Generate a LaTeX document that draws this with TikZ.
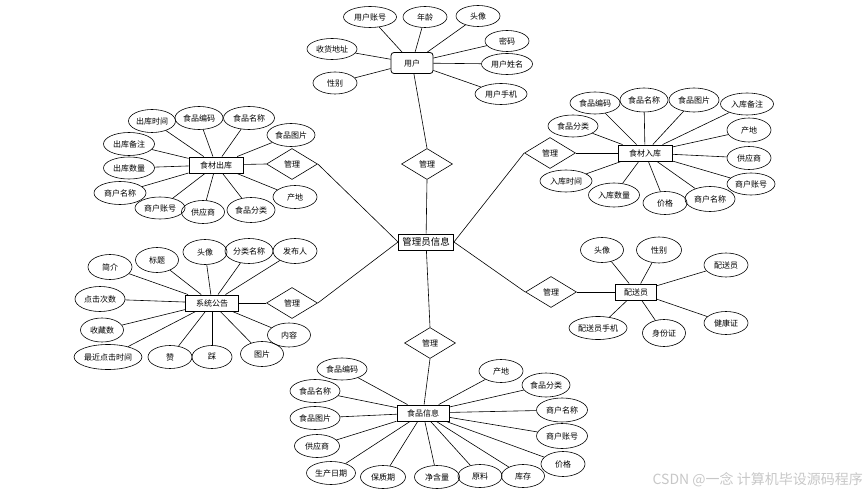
\documentclass[tikz,border=0pt]{standalone}
\usepackage{fontspec}
\setmainfont{Noto Sans CJK SC}
\usetikzlibrary{shapes.geometric}
\tikzset{
  attr/.style={ellipse, draw, line width=0.6pt, minimum width=48pt, minimum height=22pt, inner sep=0pt, font=\fontsize{8}{9}\selectfont},
  ent/.style={rectangle, draw, line width=0.9pt, minimum width=54pt, minimum height=16pt, inner sep=0pt, fill=white, font=\fontsize{8}{9}\selectfont},
  rel/.style={diamond, draw, line width=0.6pt, minimum width=51pt, minimum height=31pt, inner sep=0pt, fill=white, font=\fontsize{8}{9}\selectfont},
  conn/.style={line width=0.6pt}
}
\begin{document}
\begin{tikzpicture}[x=1pt,y=-1pt]
\useasboundingbox (0,0) rectangle (867,497);
% central
\node[ent, line width=0.9pt, minimum width=55pt, font=\fontsize{9.5}{10}\selectfont] (admin) at (426,242) {管理员信息};
\node[rel] (r0) at (427,164) {管理};
\node[rel] (r1) at (292,164) {管理};
\node[rel] (r2) at (550,153) {管理};
\node[rel] (r3) at (292,303) {管理};
\node[rel] (r4) at (551,292) {管理};
\node[rel] (r5) at (430,343) {管理};

% user
\node[ent, line width=0.8pt, rounded corners=3pt, minimum width=42pt, minimum height=21pt] (user) at (412,63) {用户};
\node[attr, minimum width=53pt, minimum height=21pt] (u1) at (370,17) {用户账号};
\node[attr, minimum width=44pt, minimum height=21pt] (u2) at (425,17) {年龄};
\node[attr, minimum width=44pt, minimum height=21pt] (u3) at (478,16) {头像};
\node[attr, minimum width=44pt, minimum height=21pt] (u4) at (507,41) {密码};
\node[attr, minimum width=51pt, minimum height=21pt] (u5) at (507,64) {用户姓名};
\node[attr, minimum width=52pt, minimum height=21pt] (u6) at (501,94) {用户手机};
\node[attr, minimum width=50pt, minimum height=21pt] (u7) at (332,49) {收货地址};
\node[attr, minimum width=44pt, minimum height=22pt] (u8) at (335,83) {性别};
\foreach \a in {u1,u2,u3,u4,u5,u6,u7,u8} \draw[conn] (user) -- (\a);

% 食材出库
\node[ent] (e1) at (216,165) {食材出库};
\node[attr, minimum width=47pt, minimum height=23pt] (a1) at (152,121) {出库时间};
\node[attr, minimum width=48pt, minimum height=23pt] (a2) at (199,118) {食品编码};
\node[attr, minimum width=51pt, minimum height=23pt] (a3) at (249,118) {食品名称};
\node[attr, minimum width=48pt, minimum height=23pt] (a4) at (291,135) {食品图片};
\node[attr, minimum width=51pt, minimum height=23pt] (a5) at (129,144) {出库备注};
\node[attr, minimum width=51pt, minimum height=22pt] (a6) at (129,168) {出库数量};
\node[attr, minimum width=52pt, minimum height=23pt] (a7) at (120,193) {商户名称};
\node[attr, minimum width=50pt, minimum height=22pt] (a8) at (160,208) {商户账号};
\node[attr, minimum width=43pt, minimum height=23pt] (a9) at (203,212) {供应商};
\node[attr, minimum width=48pt, minimum height=25pt] (a10) at (251,210) {食品分类};
\node[attr, minimum width=44pt, minimum height=23pt] (a11) at (295,197) {产地};
\foreach \a in {a1,a2,a3,a4,a5,a6,a7,a8,a9,a10,a11} \draw[conn] (e1) -- (\a);

% 食材入库
\node[ent] (e2) at (645,153) {食材入库};
\node[attr, minimum width=50pt, minimum height=22pt] (b1) at (595,103) {食品编码};
\node[attr, minimum width=48pt, minimum height=24pt] (b2) at (644,100) {食品名称};
\node[attr, minimum width=50pt, minimum height=24pt] (b3) at (694,100) {食品图片};
\node[attr, minimum width=53pt, minimum height=22pt] (b4) at (747,104) {入库备注};
\node[attr, minimum width=50pt, minimum height=22pt] (b5) at (573,126) {食品分类};
\node[attr, minimum width=44pt, minimum height=24pt] (b6) at (749,130) {产地};
\node[attr, minimum width=44pt, minimum height=23pt] (b7) at (749,158) {供应商};
\node[attr, minimum width=48pt, minimum height=22pt] (b8) at (751,184) {商户账号};
\node[attr, minimum width=50pt, minimum height=25pt] (b9) at (710,199) {商户名称};
\node[attr, minimum width=44pt, minimum height=23pt] (b10) at (665,203) {价格};
\node[attr, minimum width=51pt, minimum height=24pt] (b11) at (614,195) {入库数量};
\node[attr, minimum width=52pt, minimum height=22pt] (b12) at (566,181) {入库时间};
\foreach \a in {b1,b2,b3,b4,b5,b6,b7,b8,b9,b10,b11,b12} \draw[conn] (e2) -- (\a);

% 系统公告
\node[ent, minimum width=53pt] (e3) at (212,303) {系统公告};
\node[attr, minimum width=44pt, minimum height=25pt] (c1) at (110,267) {简介};
\node[attr, minimum width=43pt, minimum height=25pt] (c2) at (157,260) {标题};
\node[attr, minimum width=44pt, minimum height=25pt] (c3) at (205,252) {头像};
\node[attr, minimum width=48pt, minimum height=25pt] (c4) at (249,251) {分类名称};
\node[attr, minimum width=44pt, minimum height=25pt] (c5) at (295,251) {发布人};
\node[attr, minimum width=50pt, minimum height=25pt] (c6) at (100,299) {点击次数};
\node[attr, minimum width=43pt, minimum height=24pt] (c7) at (102,330) {收藏数};
\node[attr, minimum width=60pt, minimum height=25pt] (c8) at (108,357) {最近点击时间};
\node[attr, minimum width=44pt, minimum height=23pt] (c9) at (170,357) {赞};
\node[attr, minimum width=40pt, minimum height=23pt] (c10) at (212,357) {踩};
\node[attr, minimum width=43pt, minimum height=25pt] (c11) at (262,354) {图片};
\node[attr, minimum width=43pt, minimum height=24pt] (c12) at (289,335) {内容};
\foreach \a in {c1,c2,c3,c4,c5,c6,c7,c8,c9,c10,c11,c12} \draw[conn] (e3) -- (\a);

% 配送员
\node[ent, minimum width=41pt] (e4) at (636,292) {配送员};
\node[attr, minimum width=43pt, minimum height=25pt] (d1) at (602,250) {头像};
\node[attr, minimum width=45pt, minimum height=26pt] (d2) at (659,250) {性别};
\node[attr, minimum width=44pt, minimum height=24pt] (d3) at (726,265) {配送员};
\node[attr, minimum width=44pt, minimum height=23pt] (d4) at (726,323) {健康证};
\node[attr, minimum width=58pt, minimum height=23pt] (d5) at (598,328) {配送员手机};
\node[attr, minimum width=43pt, minimum height=27pt] (d6) at (664,333) {身份证};
\foreach \a in {d1,d2,d3,d4,d5,d6} \draw[conn] (e4) -- (\a);

% 食品信息
\node[ent, minimum width=52pt] (e5) at (423,413) {食品信息};
\node[attr, minimum width=50pt, minimum height=22pt] (f1) at (342,369) {食品编码};
\node[attr, minimum width=50pt, minimum height=23pt] (f2) at (315,391) {食品名称};
\node[attr, minimum width=50pt, minimum height=23pt] (f3) at (315,418) {食品图片};
\node[attr, minimum width=45pt, minimum height=23pt] (f4) at (317,446) {供应商};
\node[attr, minimum width=49pt, minimum height=23pt] (f5) at (331,473) {生产日期};
\node[attr, minimum width=45pt, minimum height=23pt] (f6) at (383,477) {保质期};
\node[attr, minimum width=45pt, minimum height=23pt] (f7) at (437,477) {净含量};
\node[attr, minimum width=44pt, minimum height=23pt] (f8) at (480,476) {原料};
\node[attr, minimum width=43pt, minimum height=23pt] (f9) at (523,476) {库存};
\node[attr, minimum width=44pt, minimum height=25pt] (f10) at (563,464) {价格};
\node[attr, minimum width=51pt, minimum height=25pt] (f11) at (562,436) {商户账号};
\node[attr, minimum width=51pt, minimum height=24pt] (f12) at (562,410) {商户名称};
\node[attr, minimum width=48pt, minimum height=24pt] (f13) at (546,385) {食品分类};
\node[attr, minimum width=44pt, minimum height=23pt] (f14) at (501,371) {产地};
\foreach \a in {f1,f2,f3,f4,f5,f6,f7,f8,f9,f10,f11,f12,f13,f14} \draw[conn] (e5) -- (\a);

% relationship links
\draw[conn] (user) -- (r0.north);
\draw[conn] (r0.south) -- (admin);
\draw[conn] (e1) -- (r1.west);
\draw[conn] (r1.east) -- (admin.west);
\draw[conn] (e2) -- (r2.east);
\draw[conn] (r2.west) -- (admin.east);
\draw[conn] (e3) -- (r3.west);
\draw[conn] (r3.east) -- (admin.west);
\draw[conn] (e4) -- (r4.east);
\draw[conn] (r4.west) -- (admin.east);
\draw[conn] (admin) -- (r5.north);
\draw[conn] (r5.south) -- (e5);

% watermark
\node[text=black!22, font=\fontsize{14}{16}\selectfont, anchor=east, inner sep=0pt] (wm) at (863,480) {CSDN @一念 计算机毕设源码程序};
\end{tikzpicture}
\end{document}
